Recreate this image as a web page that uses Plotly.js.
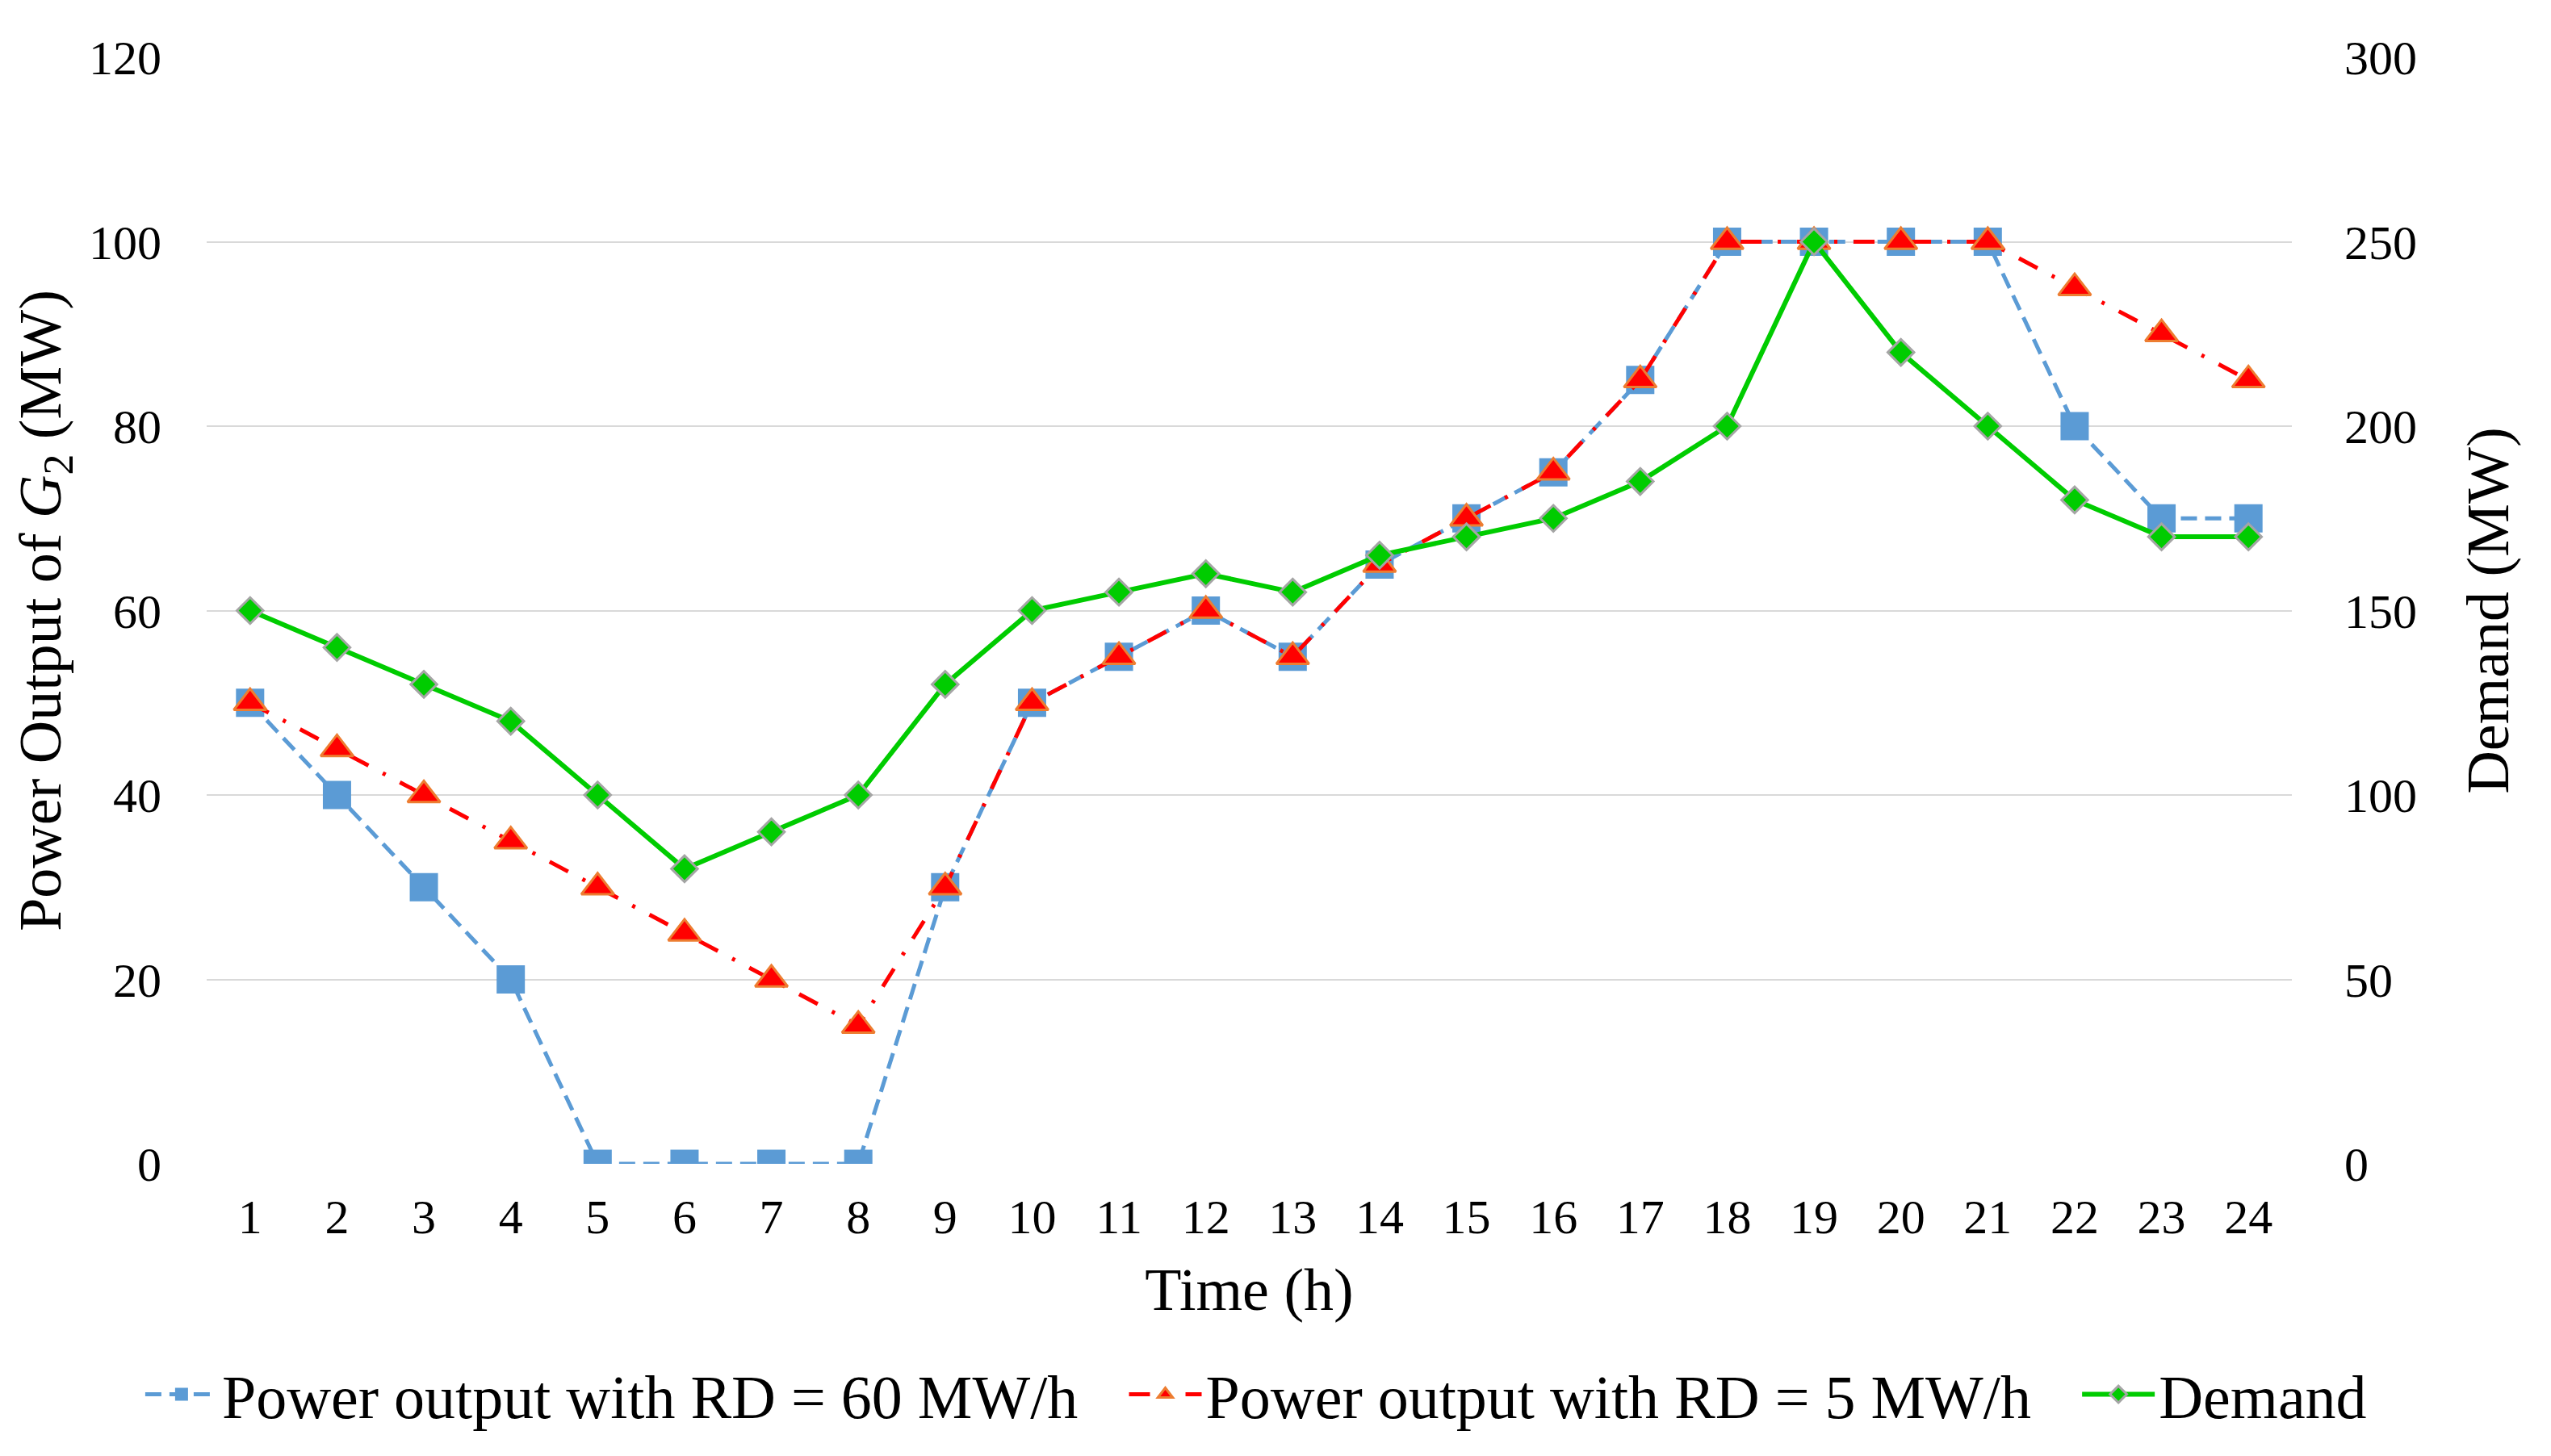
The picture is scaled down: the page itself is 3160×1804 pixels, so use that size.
<!DOCTYPE html>
<html>
<head>
<meta charset="utf-8">
<script src="https://cdn.plot.ly/plotly-3.0.1.min.js"></script>
<style>html,body{margin:0;padding:0;background:#fff;}#chart{width:3160px;height:1804px;}</style>
</head>
<body>
<div id="chart"></div>
<script>
const hours = [1,2,3,4,5,6,7,8,9,10,11,12,13,14,15,16,17,18,19,20,21,22,23,24];
const hourLabels = hours.map(String);
const outputRD60 = [50,40,30,20,0,0,0,0,30,50,55,60,55,65,70,75,85,100,100,100,100,80,70,70];
const outputRD5 = [50,45,40,35,30,25,20,15,30,50,55,60,55,65,70,75,85,100,100,100,100,95,90,85];
const demand = [150,140,130,120,100,80,90,100,130,150,155,160,155,165,170,175,185,200,250,220,200,180,170,170];
const leftTicks = [0,20,40,60,80,100,120];
const rightTicks = [0,50,100,150,200,250,300];
const seriesNames = ['Power output with RD = 60 MW/h', 'Power output with RD = 5 MW/h', 'Demand'];

const FONT = '"Liberation Serif", "Times New Roman", serif';
const GAP = '\u00A0\u00A0\u2009';

const traces = [
  {
    x: hourLabels, y: outputRD60, type: 'scatter', mode: 'lines+markers',
    name: seriesNames[0] + GAP,
    line: {color: '#5B9BD5', width: 5, dash: '20px,10px'},
    marker: {symbol: 'square', size: 35, color: '#5B9BD5', line: {width: 0}}
  },
  {
    x: hourLabels, y: outputRD5, type: 'scatter', mode: 'lines+markers',
    name: seriesNames[1] + GAP,
    line: {color: '#FF0000', width: 5, dash: '26px,20px,4px,20px'},
    marker: {symbol: 'triangle-up', size: 35, color: '#FF0000', line: {color: '#ED7D31', width: 3}}
  },
  {
    x: hourLabels, y: demand, type: 'scatter', mode: 'lines+markers',
    name: seriesNames[2], yaxis: 'y2',
    line: {color: '#00CC00', width: 6},
    marker: {symbol: 'diamond', size: 25, color: '#00CC00', line: {color: '#A5A5A5', width: 3}}
  }
];

const layout = {
  width: 3160, height: 1804,
  paper_bgcolor: '#ffffff', plot_bgcolor: '#ffffff',
  font: {family: FONT, color: '#000000', size: 60},
  margin: {l: 256, r: 321, t: 71, b: 362, autoexpand: false},
  showlegend: true,
  legend: {
    orientation: 'h', xref: 'paper', yref: 'paper',
    x: -0.0314, xanchor: 'left', y: -0.2083, yanchor: 'middle',
    font: {family: FONT, size: 76, color: '#000'},
    itemwidth: 90, tracegroupgap: 0
  },
  xaxis: {
    type: 'category',
    range: [-0.5, 23.5],
    automargin: true,
    showgrid: false, zeroline: false, showline: false, ticks: '',
    tickfont: {family: FONT, size: 60},
    ticklabelstandoff: 25,
    title: {text: 'Time (h)', font: {family: FONT, size: 74}, standoff: 31}
  },
  yaxis: {
    range: [0, 120], tickvals: leftTicks, ticktext: leftTicks.map(String),
    automargin: true,
    showgrid: true, gridcolor: '#D9D9D9', gridwidth: 2,
    zeroline: false, showline: false, ticks: '',
    tickfont: {family: FONT, size: 60},
    ticklabelstandoff: 55,
    title: {text: 'Power Output of <i>G</i><sub>2</sub> (MW)', font: {family: FONT, size: 74}, standoff: 10}
  },
  yaxis2: {
    overlaying: 'y', side: 'right',
    range: [0, 300], tickvals: rightTicks, ticktext: rightTicks.map(String),
    automargin: true,
    showgrid: false, zeroline: false, showline: false, ticks: '',
    tickfont: {family: FONT, size: 60},
    ticklabelstandoff: 64,
    title: {text: 'Demand (MW)', font: {family: FONT, size: 74}, standoff: 62}
  }
};

Plotly.newPlot('chart', traces, layout, {displayModeBar: false, staticPlot: true});
</script>
</body>
</html>
